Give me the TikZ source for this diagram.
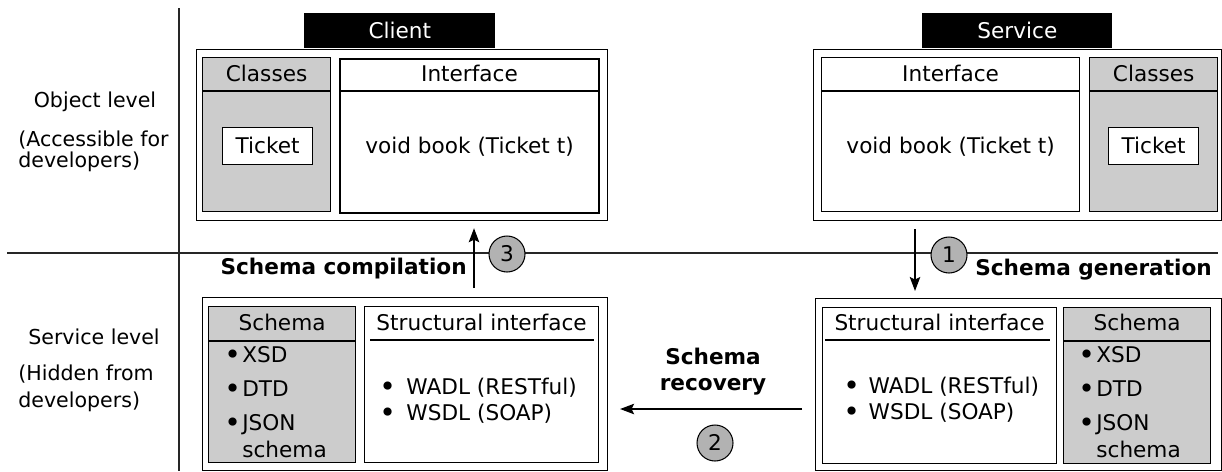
\documentclass[tikz,border=0pt]{standalone}
\usepackage{fontspec}
\setmainfont{DejaVu Sans}
\usetikzlibrary{arrows.meta}
\newcommand{\punto}{\raisebox{-1.2pt}{\fontsize{16}{16}\selectfont\textbullet}}

\begin{document}
\begin{tikzpicture}[x=0.02cm, y=-0.02cm,
  every node/.style={font=\fontsize{12.3}{14}\selectfont, inner sep=0pt, text height=8.9pt, text depth=0pt},
  box/.style={draw, line width=0.7pt, anchor=north west},
  grigio/.style={box, fill=gray!40},
  tab/.style={fill=black, text=white, anchor=north west},
  num/.style={circle, draw, fill=gray!60, minimum size=0.72cm, line width=0.6pt},
  lab/.style={font=\fontsize{12.3}{14}\selectfont\bfseries},
  liv/.style={font=\fontsize{11.7}{14}\selectfont},
  item/.style={anchor=west},
  arr/.style={-{Stealth[length=8pt,width=6pt,inset=1.5pt]}, line width=0.7pt}]

\useasboundingbox (0,0) rectangle (1222,471);

% Linee di separazione
\draw[line width=0.6pt, black!85] (7,253) -- (1218,253);
\draw[line width=0.6pt, black!85] (179,8) -- (179,471);

% Livelli
\node[liv] at (95,100) {Object level};
\node[liv, item] at (18,139) {(Accessible for};
\node[liv, item] at (18,160) {developers)};
\node[liv] at (94,337) {Service level};
\node[liv, item] at (18,373) {(Hidden from};
\node[liv, item] at (18,400) {developers)};

% Client
\node[tab, minimum width=3.82cm, minimum height=0.70cm] (clitab) at (304,13) {Client};
\node[box, minimum width=8.22cm, minimum height=3.42cm] (cliobj) at (196,49) {};
\node[grigio, minimum width=2.56cm, minimum height=3.08cm] (clicls) at (202,57) {};
\node[box, line width=1.2pt, minimum width=5.18cm, minimum height=3.08cm] (cliint) at (339,58) {};
\node[box, fill=white, minimum width=1.8cm, minimum height=0.74cm] (clitkt) at (222,127) {Ticket};
\node at (clicls.north |- 0,74) {Classes};
\node at (cliint.north |- 0,74) {Interface};
\node at (cliint.center |- 0,146) {void book (Ticket t)};
\draw[line width=0.7pt] (clicls.west |- 0,91) -- (clicls.east |- 0,91);
\draw[line width=0.7pt] (cliint.west |- 0,91) -- (cliint.east |- 0,91);

% Service
\node[tab, minimum width=3.80cm, minimum height=0.70cm] (svctab) at (922,13) {Service};
\node[box, minimum width=8.16cm, minimum height=3.42cm] (svcobj) at (813,49) {};
\node[box, minimum width=5.16cm, minimum height=3.08cm] (svcint) at (821,57) {};
\node[grigio, minimum width=2.56cm, minimum height=3.08cm] (svccls) at (1089,57) {};
\node[box, fill=white, minimum width=1.8cm, minimum height=0.74cm] (svctkt) at (1108,127) {Ticket};
\node at (svcint.north |- 0,74) {Interface};
\node at (svccls.north |- 0,74) {Classes};
\node at (svcint.center |- 0,146) {void book (Ticket t)};
\draw[line width=0.7pt] (svcint.west |- 0,91) -- (svcint.east |- 0,91);
\draw[line width=0.7pt] (svccls.west |- 0,91) -- (svccls.east |- 0,91);

% Livello servizio, lato client
\node[box, minimum width=8.10cm, minimum height=3.46cm] (clisvc) at (202,297) {};
\node[grigio, minimum width=2.94cm, minimum height=3.12cm] (clisch) at (208,306) {};
\node[box, minimum width=4.68cm, minimum height=3.12cm] (clistr) at (364,306) {};
\node at (clisch.north |- 0,323) {Schema};
\node at (clistr.north |- 0,323) {Structural interface};
\draw[line width=0.7pt] (clisch.west |- 0,341) -- (clisch.east |- 0,341);
\draw[line width=0.7pt] (370,340) -- (594,340);
\node[item] at (224,355) {\punto\hspace{0.8pt}XSD};
\node[item] at (224,389) {\punto\hspace{0.8pt}DTD};
\node[item] at (224,423) {\punto\hspace{0.8pt}JSON};
\node[item] at (224,450) {\hphantom{\punto\hspace{0.8pt}}schema};
\node[item] at (379,387) {\punto\hspace{6pt}WADL (RESTful)};
\node[item] at (379,413) {\punto\hspace{6pt}WSDL (SOAP)};

% Livello servizio, lato service
\node[box, minimum width=8.12cm, minimum height=3.44cm] (svcsvc) at (815,298) {};
\node[box, minimum width=4.68cm, minimum height=3.12cm] (svcstr) at (822,307) {};
\node[grigio, minimum width=2.94cm, minimum height=3.12cm] (svcsch) at (1063,307) {};
\node at (svcstr.north |- 0,323) {Structural interface};
\node at (svcsch.north |- 0,323) {Schema};
\draw[line width=0.7pt] (825,340) -- (1050,340);
\draw[line width=0.7pt] (svcsch.west |- 0,341) -- (svcsch.east |- 0,341);
\node[item] at (1078,355) {\punto\hspace{0.8pt}XSD};
\node[item] at (1078,389) {\punto\hspace{0.8pt}DTD};
\node[item] at (1078,423) {\punto\hspace{0.8pt}JSON};
\node[item] at (1078,450) {\hphantom{\punto\hspace{0.8pt}}schema};
\node[item] at (843,386) {\punto\hspace{5pt}WADL (RESTful)};
\node[item] at (843,412) {\punto\hspace{5pt}WSDL (SOAP)};

% Passi
\coordinate (x1) at (915,0);
\coordinate (y2) at (0,409);
\coordinate (x3) at (474,0);
\node[num] (n1) at (949,255) {1};
\node[num] (n2) at (715,443) {2};
\node[num] (n3) at (507,254) {3};
\node[lab, anchor=west] at (975,268) {Schema generation};
\node[lab] at (713,357) {Schema};
\node[lab] at (713,383) {recovery};
\node[lab, anchor=east] at (467,267) {Schema compilation};

% Archi
\draw[arr, shorten <=4.5pt, shorten >=4pt] (svcobj.south -| x1) -- (svcsvc.north -| x1);
\draw[arr, shorten <=7.4pt, shorten >=6.8pt] (svcsvc.west |- y2) -- (clisvc.east |- y2);
\draw[arr, shorten <=5pt, shorten >=4pt] (clisvc.north -| x3) -- (cliobj.south -| x3);
\end{tikzpicture}
\end{document}
